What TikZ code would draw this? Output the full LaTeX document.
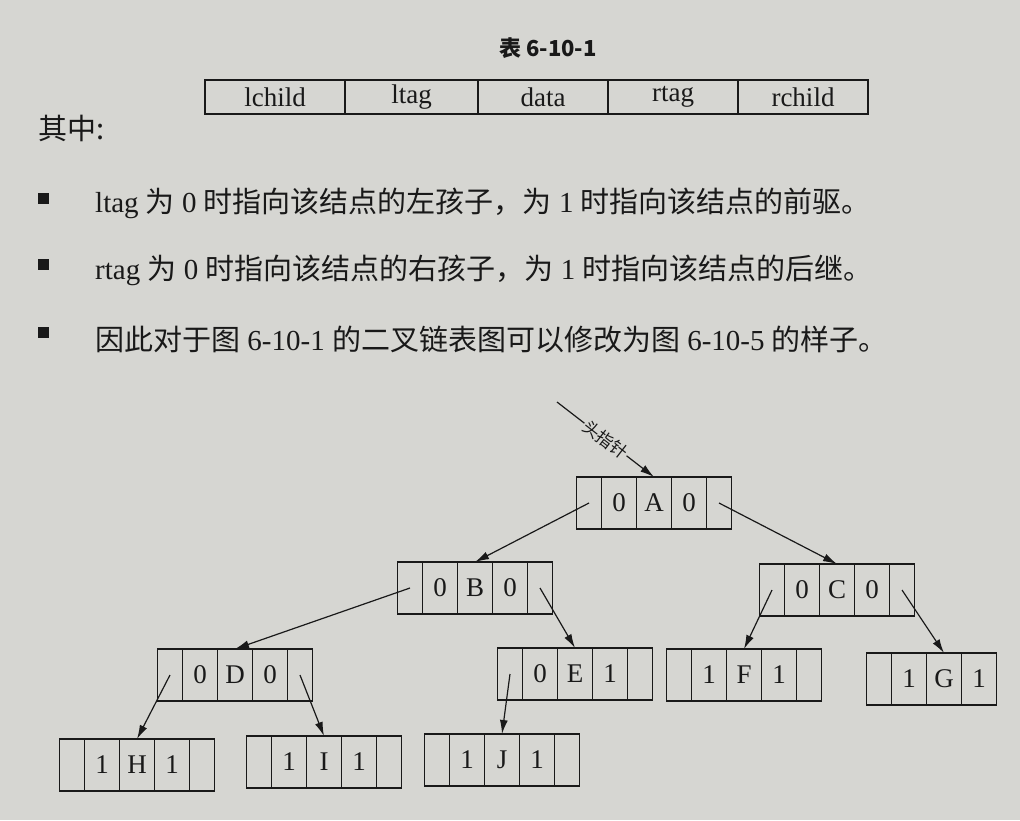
\documentclass[tikz,border=0pt]{standalone}
\usepackage{fontspec}
\setmainfont{Liberation Serif}
\newfontfamily\cjk{Noto Sans CJK SC}
\usetikzlibrary{positioning,arrows.meta}
\definecolor{paper}{RGB}{214,214,210}
\definecolor{ink}{RGB}{25,25,25}
\newcommand{\zh}[1]{{\cjk #1}}
\tikzset{
  cell/.style={draw=ink, line width=1.2pt, inner sep=0pt, outer sep=0pt,
    minimum height=52, text=ink, font=\fontsize{27}{27}\selectfont},
  datacell/.style={cell, minimum width=35},
  ptrcell/.style={cell, minimum width=25},
  fieldcell/.style={cell, minimum height=34, minimum width=130},
  ptr/.style={draw=ink, line width=1.2pt, -{Latex[length=14pt,width=8pt]}},
  bullet/.style={fill=ink, minimum size=11, inner sep=0pt},
  textline/.style={anchor=west, text=ink, inner sep=0pt,
    font=\fontsize{29}{29}\selectfont}
}
% one threaded node: name, centre of data cell, ltag, data, rtag
\newcommand{\tnode}[5]{
  \node[datacell] (#1-3) at (#2) {#4};
  \node[datacell, left=0pt of #1-3] (#1-2) {#3};
  \node[ptrcell, left=0pt of #1-2] (#1-1) {};
  \node[datacell, right=0pt of #1-3] (#1-4) {#5};
  \node[ptrcell, right=0pt of #1-4] (#1-5) {};
}
\begin{document}
\begin{tikzpicture}[x=1pt,y=-1pt]
  \fill[paper] (0,0) rectangle (1020,820);
  \useasboundingbox (0,0) rectangle (1020,820);

  % table 6-10-1
  \node[text=ink, font=\fontsize{22}{22}\selectfont\cjk\bfseries] (title) at (548,48) {表 6-10-1};
  \node[fieldcell, minimum width=140] (lchild) at (275,97) {lchild};
  \node[fieldcell, minimum width=133, right=0pt of lchild] (ltag) {ltag};
  \node[fieldcell, right=0pt of ltag] (data) {data};
  \node[fieldcell, right=0pt of data] (rtag) {rtag};
  \node[fieldcell, right=0pt of rtag] (rchild) {rchild};

  \node[textline] (where) at (38,128) {\zh{其中:}};

  \foreach \y [count=\i] in {198,264,332}
    \node[bullet] (bul\i) at (43,\y) {};
  \node[textline] (line1) at (95,203) {ltag \zh{为} 0 \zh{时指向该结点的左孩子，为} 1 \zh{时指向该结点的前驱。}};
  \node[textline] (line2) at (95,270) {rtag \zh{为} 0 \zh{时指向该结点的右孩子，为} 1 \zh{时指向该结点的后继。}};
  \node[textline] (line3) at (95,340) {\zh{因此对于图} 6-10-1 \zh{的二叉链表图可以修改为图} 6-10-5 \zh{的样子。}};

  % threaded binary tree
  \tnode{A}{654,503}{0}{A}{0}
  \tnode{B}{475,588}{0}{B}{0}
  \tnode{C}{837,590}{0}{C}{0}
  \tnode{D}{235,675}{0}{D}{0}
  \tnode{E}{575,674}{0}{E}{1}
  \tnode{F}{744,675}{1}{F}{1}
  \tnode{H}{137,765}{1}{H}{1}
  \tnode{I}{324,762}{1}{I}{1}
  \tnode{J}{502,760}{1}{J}{1}
  % G shows only four cells
  \node[datacell] (G-3) at (944,679) {G};
  \node[datacell, left=0pt of G-3] (G-2) {1};
  \node[ptrcell, left=0pt of G-2] (G-1) {};
  \node[datacell, right=0pt of G-3] (G-4) {1};

  \coordinate (head) at (557,402);
  \draw[ptr] (head) -- node[sloped, fill=paper, inner sep=1pt, text=ink,
    font=\fontsize{17}{17}\selectfont\cjk] (headlabel) {头指针} (A-3.north);

  \draw[ptr] (A-1.center) -- (B-3.north);
  \draw[ptr] (A-5.center) -- (C-3.north);
  \draw[ptr] (B-1.center) -- (D-3.north);
  \draw[ptr] (B-5.center) -- (E-3.north);
  \draw[ptr] (C-1.center) -- (F-3.north);
  \draw[ptr] (C-5.center) -- (G-3.north);
  \draw[ptr] (D-1.center) -- (H-3.north);
  \draw[ptr] (D-5.center) -- (I-3.north);
  \draw[ptr] (E-1.center) -- (J-3.north);
\end{tikzpicture}
\end{document}
